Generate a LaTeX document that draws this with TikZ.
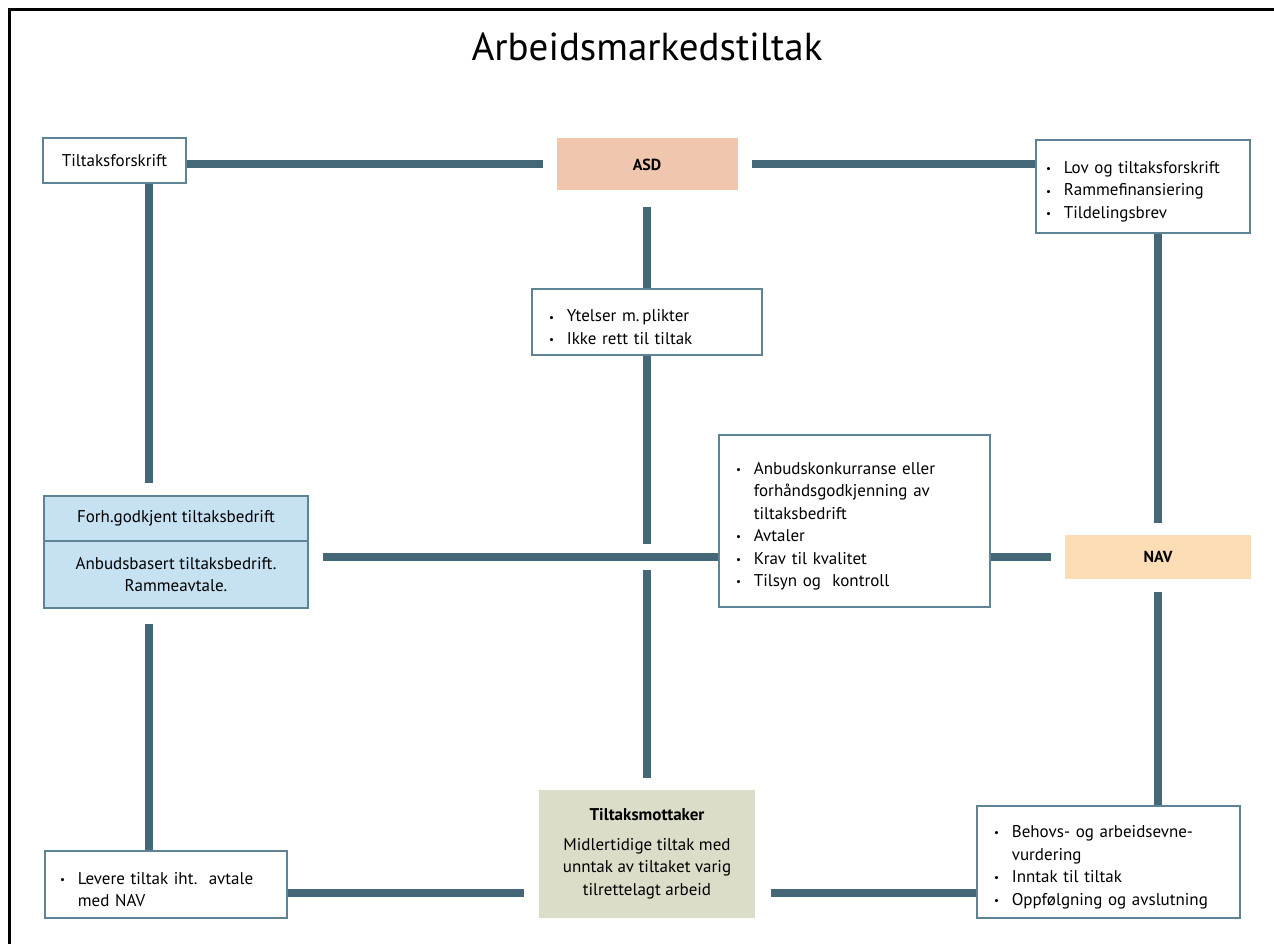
\documentclass[tikz,border=0pt]{standalone}
\usepackage{fontspec}
\setmainfont{PT Sans}
\usetikzlibrary{calc}
\definecolor{lnblue}{HTML}{456879}
\definecolor{edge}{HTML}{5E8395}
\definecolor{asdfill}{HTML}{F1C6AE}
\definecolor{navfill}{HTML}{FDDDB5}
\definecolor{tbfill}{HTML}{C6E1F2}
\definecolor{tmfill}{HTML}{DCDDC8}
\newcommand{\bul}[1]{\par\hangindent=1.05em\hangafter=1\noindent
  \makebox[1.05em][l]{\raisebox{.1ex}{\fontsize{11}{11}\selectfont\textbullet}}#1\par}

\begin{document}
\begin{tikzpicture}[
  x=1pt, y=-1pt,
  font=\fontsize{17}{22.5}\selectfont,
  wbox/.style={draw=edge, line width=1.3pt, fill=white, align=left,
               inner ysep=0pt},
  org/.style={align=center, inner sep=0pt},
  tb/.style={draw=edge, line width=1.3pt, fill=tbfill, align=center,
             minimum width=264pt, inner sep=0pt},
  ln/.style={draw=lnblue, line width=8pt}
]
\useasboundingbox (0,0) rectangle (1274,944);
\draw[line width=3pt] (9,944) -- (9,10) -- (1274,10);
\node[font=\fontsize{39}{44}\selectfont] (title) at (647,47) {Arbeidsmarkedstiltak};
% boxes
\node[wbox, align=center, minimum width=143pt, minimum height=45pt]
     (tf) at (114.5,160.5) {Tiltaksforskrift};
\node[org, fill=asdfill, minimum width=181pt, minimum height=52pt,
      font=\fontsize{16}{18}\selectfont\bfseries] (asd) at (647,164.5) {ASD};
\node[wbox, text width=194pt, inner xsep=10pt, minimum height=93pt]
     (law) at (1143,186.5)
     {\bul{Lov og tiltaksforskrift}\bul{Rammefinansiering}\bul{Tildelingsbrev}};
\node[wbox, text width=196pt, inner xsep=17pt, minimum height=66pt]
     (ytl) at (647,322) {\bul{Ytelser m.\,plikter}\bul{Ikke rett til tiltak}};
\node[tb, minimum height=45pt] (forh) at (176,518.5) {Forh.godkjent tiltaksbedrift};
\node[tb, minimum height=67pt] (anb) at (176,574.5)
     {Anbudsbasert tiltaksbedrift.\\Rammeavtale.};
\node[wbox, text width=237pt, inner xsep=17pt, minimum height=172pt]
     (mid) at (854.5,521)
     {\bul{Anbudskonkurranse eller\newline forhåndsgodkjenning av\newline tiltaksbedrift}%
      \bul{Avtaler}\bul{Krav til kvalitet}\bul{Tilsyn og\ \ kontroll}};
\node[org, fill=navfill, minimum width=186pt, minimum height=44pt,
      font=\fontsize{16}{18}\selectfont\bfseries] (nav) at (1158,557) {NAV};
\node[org, fill=tmfill, minimum width=216pt, minimum height=128pt]
     (mott) at (647,854)
     {{\bfseries Tiltaksmottaker}\\[7pt]Midlertidige tiltak med\\unntak av tiltaket varig\\tilrettelagt arbeid};
\node[wbox, text width=212pt, inner xsep=15pt, minimum height=67pt]
     (lev) at (166,884.5) {\bul{Levere tiltak iht.\ \ avtale\newline med NAV}};
\node[wbox, text width=229pt, inner xsep=17pt, minimum height=112pt]
     (bre) at (1108.5,862)
     {\bul{Behovs- og arbeidsevne-\newline vurdering}\bul{Inntak til tiltak}%
      \bul{Oppfølgning og avslutning}};
% connectors
\coordinate (colA) at (149,0);
\coordinate (rowC) at (0,893);
\draw[ln, shorten >=13pt] (tf.east |- asd.west) -- (asd.west);
\draw[ln, shorten <=14pt] (asd.east) -- (asd.east -| law.west);
\draw[ln, shorten >=12pt] (colA |- tf.south) -- (colA |- forh.north);
\draw[ln, shorten <=16pt] (asd.south) -- (ytl.north);
\draw[ln, shorten >=13pt] (ytl.south) -- (ytl.south |- nav.west);
\draw[ln, shorten <=13pt, shorten >=12pt] (ytl.south |- nav.west) -- (mott.north);
\draw[ln, shorten >=14pt] (mid.west |- nav.west) -- (anb.east |- nav.west);
\draw[ln, shorten >=14pt] (mid.east |- nav.west) -- (nav.west);
\draw[ln, shorten >=12pt] (law.south -| nav.north) -- (nav.north);
\draw[ln, shorten <=13pt] (nav.south) -- (nav.south |- bre.north);
\draw[ln, shorten <=15pt] (colA |- anb.south) -- (colA |- lev.north);
\draw[ln, shorten >=15pt] (lev.east |- rowC) -- (mott.west |- rowC);
\draw[ln, shorten <=16pt] (mott.east |- rowC) -- (bre.west |- rowC);
\end{tikzpicture}
\end{document}
